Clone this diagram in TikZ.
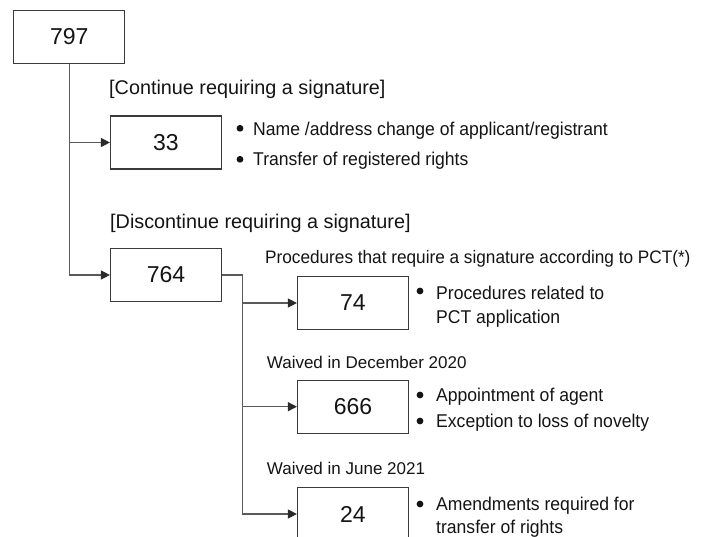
\documentclass[tikz,border=0pt]{standalone}
\usepackage{fontspec}
\setmainfont{Liberation Sans}
\newfontfamily\narrowsans[FakeStretch=0.95]{Liberation Sans}
\usetikzlibrary{arrows.meta}
\definecolor{boxc}{HTML}{3A3A3A}
\definecolor{linec}{HTML}{5A5A5A}
\definecolor{tipc}{HTML}{2A2A2A}
\definecolor{txt}{HTML}{141414}
\begin{document}
\begin{tikzpicture}[x=1pt,y=-1pt,
  numbox/.style={draw=boxc, line width=1.2pt, minimum width=111pt, minimum height=53pt, inner sep=0pt, text=txt, font=\fontsize{23}{24}\selectfont},
  conn/.style={draw=linec, line width=1.2pt},
  arr/.style={conn, -{Triangle[length=9pt,width=9pt,color=tipc]}},
  hdr/.style={anchor=base west, inner sep=0pt, text=txt, font=\fontsize{19.8}{22}\selectfont},
  subhdr/.style={anchor=base west, inner sep=0pt, text=txt, font=\fontsize{17}{20}\selectfont},
  pcthdr/.style={anchor=base west, inner sep=0pt, text=txt, font=\narrowsans\fontsize{18.1}{20}\selectfont},
  item/.style={anchor=base west, inner sep=0pt, text=txt, font=\narrowsans\fontsize{18.5}{20}\selectfont},
  dot/.style={circle, fill=txt, inner sep=0pt, minimum size=6.8pt}
]
\clip (0,0) rectangle (710,536);
\fill[white] (0,0) rectangle (710,536);

% boxes
\node[numbox] (n797) at (69.3,37) {797};
\node[numbox] (n33) at (166,142.5) {33};
\node[numbox] (n764) at (166,275) {764};
\node[numbox] (n74) at (353,303) {74};
\node[numbox] (n666) at (353,406.7) {666};
\node[numbox] (n24) at (353,514) {24};

% connectors
\draw[arr] (n797.south) |- (n33.west);
\draw[arr] (n797.south) |- (n764.west);
\coordinate (j) at (242.7,275);
\draw[conn] (n764.east) -- (j);
\draw[arr] (j) |- (n24.west);
\draw[arr] (j |- n74.west) -- (n74.west);
\draw[arr] (j |- n666.west) -- (n666.west);

% headers
\node[hdr] (h1) at (109,94.3) {[Continue requiring a signature]};
\node[hdr] (h2) at (110,228.3) {[Discontinue requiring a signature]};
\node[pcthdr] (s1) at (265,263.3) {Procedures that require a signature according to PCT(*)};
\node[subhdr] (s2) at (266.7,368.3) {Waived in December 2020};
\node[subhdr] (s3) at (266.7,474) {Waived in June 2021};

% bullets for 33
\node[dot] (b1) at (240,128.3) {};
\node[item] (t1) at (253,135) {Name /address change of applicant/registrant};
\node[dot] (b2) at (240,159.3) {};
\node[item] (t2) at (253,165.7) {Transfer of registered rights};

% bullets for 74
\node[dot] (b3) at (420,291) {};
\node[item] (t3) at (436,299) {Procedures related to};
\node[item] (t4) at (436,323.3) {PCT application};

% bullets for 666
\node[dot] (b4) at (420,395) {};
\node[item] (t5) at (436,401.7) {Appointment of agent};
\node[dot] (b5) at (420,421) {};
\node[item] (t6) at (436,427.3) {Exception to loss of novelty};

% bullets for 24
\node[dot] (b6) at (420,504) {};
\node[item] (t7) at (436,510.7) {Amendments required for};
\node[item] (t8) at (436,533.3) {transfer of rights};
\end{tikzpicture}
\end{document}
